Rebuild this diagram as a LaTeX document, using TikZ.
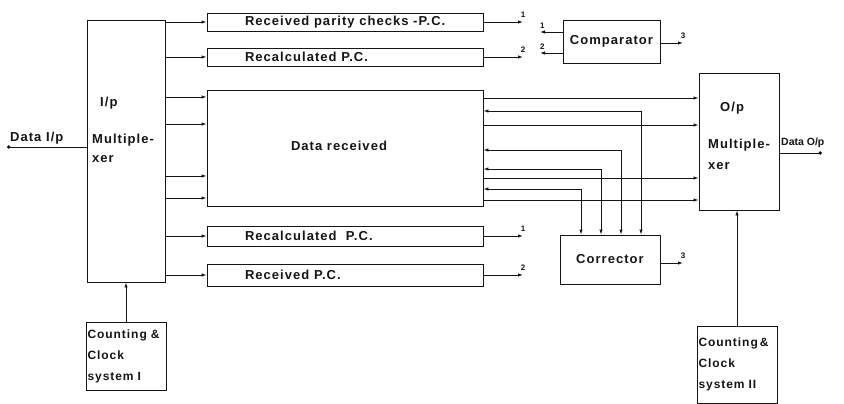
\documentclass[tikz,border=0pt]{standalone}
\usepackage{fontspec}
\newfontfamily\diafont{Liberation Sans}[LetterSpace=8]
\newfontfamily\tightfont{Liberation Sans}
\usepackage{xcolor}
\usepackage{tikz}
\usetikzlibrary{positioning,arrows.meta,calc}
\definecolor{ink}   {HTML}{151515}
\definecolor{paper} {HTML}{FFFFFF}
\newcommand{\pcl}[1]{\makebox[200pt][l]{#1}}
\tikzset{
  blk/.style    = {draw=ink, line width=0.9pt, inner sep=0pt, text=ink},
  pcbox/.style  = {blk, minimum width=276pt, minimum height=18pt,
                   font=\diafont\bfseries\fontsize{13}{15}\selectfont},
  txt/.style    = {font=\diafont\bfseries\fontsize{13}{15}\selectfont,
                   text=ink, inner sep=0pt, align=left},
  clkbox/.style = {blk, minimum width=80pt, text width=77pt, inner xsep=1.5pt,
                   align=left, font=\diafont\bfseries\fontsize{12}{21}\selectfont},
  pin/.style    = {font=\tightfont\bfseries\fontsize{8}{9}\selectfont,
                   text=ink, inner sep=0pt},
  flow/.style   = {-{Latex[length=5pt,width=3.5pt]}, draw=ink, line width=0.9pt},
  both/.style   = {{Latex[length=5pt,width=3.5pt]}-{Latex[length=5pt,width=3.5pt]},
                   draw=ink, line width=0.9pt},
  term/.style   = {{Circle[length=3.5pt]}-, draw=ink, line width=0.9pt},
}

\begin{document}
\begin{tikzpicture}[x=1pt, y=-1pt]
  \useasboundingbox[fill=paper] (0,0) rectangle (844,404);

  \node[blk, minimum width=78pt, minimum height=262pt] (inmux)  at (126,151)   {};
  \node[txt, anchor=north west] (inmuxtxt) at (92,97)
        {\hspace*{8pt}I/p\\[22pt]Multiple-\\[4pt]xer};
  \node[blk, minimum width=80pt, minimum height=137pt] (outmux) at (739,141.5) {};
  \node[txt, anchor=north west] (outmuxtxt) at (708,102)
        {\hspace*{12pt}O/p\\[22pt]Multiple-\\[6pt]xer};

  \node[pcbox]                     (rxpc)  at (345,22)  {\pcl{Received parity checks -P.C.}};
  \node[pcbox]                     (rcpc)  at (345,57)  {\pcl{Recalculated P.C.}};
  \node[pcbox, minimum height=20pt] (rcpcb) at (345,236) {\pcl{Recalculated\ \ P.C.}};
  \node[pcbox, minimum height=22pt] (rxpcb) at (345,275) {\pcl{Received P.C.}};

  \node[blk, txt, minimum width=276pt, minimum height=116pt] (drec) at (345,148)
        {\raisebox{5pt}{Data\ received}\hspace*{12pt}};
  \node[blk, txt, minimum width=97pt,  minimum height=43pt]  (comp) at (611.5,41.5) {Comparator};
  \node[blk, txt, minimum width=100pt, minimum height=49pt]  (corr) at (610,259.5)  {Corrector};

  \node[clkbox, minimum height=68pt] (clka) at (126,356)   {Counting \&\\Clock\\system I};
  \node[clkbox, minimum height=77pt] (clkb) at (737,364.5) {Counting\,\&\\Clock\\system II};

  % data in and out
  \coordinate (din)  at (7,147);
  \coordinate (dout) at (822,153);
  \draw[term] (din) -- (din -| inmux.west);
  \draw[term] (dout) -- (dout -| outmux.east);
  \node[txt, anchor=base west] (dinlbl) at (10,141.5) {Data I/p};
  \node[font=\tightfont\bfseries\fontsize{10.5}{12}\selectfont, text=ink, inner sep=0pt,
        anchor=base west] (doutlbl) at (781,145.5) {Data O/p};

  % multiplexer to the blocks
  \foreach \blk in {rxpc,rcpc,rcpcb,rxpcb}
    \draw[flow] (inmux.east |- \blk) -- (\blk);
  \foreach \y in {97,124,176,198}{
    \coordinate (h) at (0,\y);
    \draw[flow] (inmux.east |- h) -- (drec.west |- h);
  }
  \foreach \y in {98,125,178,200}{
    \coordinate (h) at (0,\y);
    \draw[flow] (drec.east |- h) -- (outmux.west |- h);
  }
  \foreach \y/\x in {111/641,150/621,169/601,189/581}{
    \coordinate (h) at (\x,\y);
    \draw[both] (drec.east |- h) -| (corr.north -| h);
  }

  % parity check terminals
  \coordinate (o1) at (523,22);
  \coordinate (o2) at (523,57);
  \coordinate (o3) at (523,236);
  \coordinate (o4) at (523,275);
  \draw[flow] (rxpc)  -- (o1);
  \draw[flow] (rcpc)  -- (o2);
  \draw[flow] (rcpcb) -- (o3);
  \draw[flow] (rxpcb) -- (o4);
  \node[pin, above=4pt of o1] {1};
  \node[pin, above=4pt of o2] {2};
  \node[pin, above=4pt of o3] {1};
  \node[pin, above=4pt of o4] {2};

  \coordinate (c1) at (540,32);
  \coordinate (c2) at (540,53);
  \coordinate (c3) at (683,43);
  \coordinate (k3) at (683,263);
  \draw[flow] (comp.west |- c1) -- (c1);
  \draw[flow] (comp.west |- c2) -- (c2);
  \draw[flow] (comp.east |- c3) -- (c3);
  \draw[flow] (corr.east |- k3) -- (k3);
  \node[pin, above right=3pt and 0pt of c1] {1};
  \node[pin, above right=3pt and 0pt of c2] {2};
  \node[pin, above=4pt of c3] {3};
  \node[pin, above=4pt of k3] {3};

  % clock systems
  \draw[flow] (clka) -- (clka |- inmux.south);
  \draw[flow] (clkb) -- (clkb |- outmux.south);
\end{tikzpicture}
\end{document}
